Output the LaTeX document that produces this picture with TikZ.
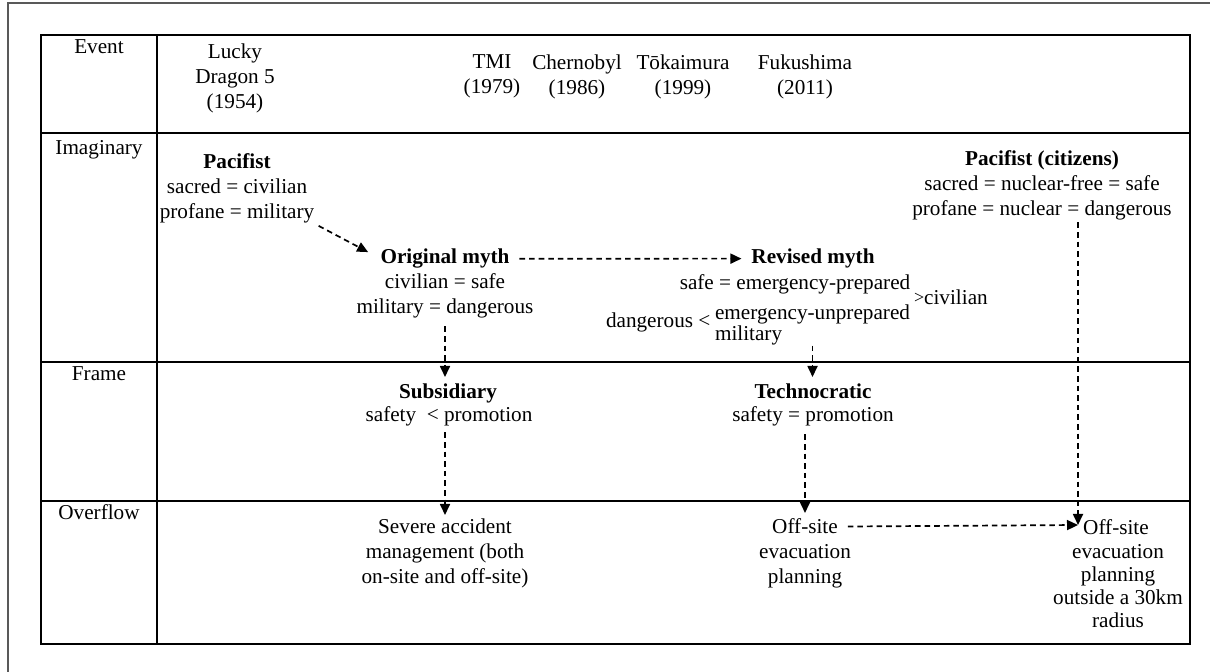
\documentclass[tikz,border=0pt]{standalone}
\usepackage{fontspec}
\setmainfont{Liberation Serif}
\usetikzlibrary{arrows.meta}

\begin{document}
\begin{tikzpicture}[x=0.5pt,y=-0.5pt,
		txt/.style={inner sep=0pt, outer sep=0pt, align=center, font=\fontsize{10.6}{12.5}\selectfont},
		cellline/.style={line width=0.75pt, color=black},
		dasharrow/.style={line width=0.85pt, dash pattern=on 2.8pt off 2pt, -{Triangle[length=5.5pt,width=5pt]}}]
			%%%%% START %%%%%
			\useasboundingbox (0,0) rectangle (1210,672);
			
			\draw[line width=1pt, color=black!65] (8,672) -- (8,3) -- (1210,3);
			
			\draw[cellline] (41,35) rectangle (1190,644);
			\draw[cellline] (157,35) -- (157,644);
			\foreach \y in {133,362,501}
				\draw[cellline] (41,\y) -- (1190,\y);
			
			\node[txt, anchor=north] (lbEvent) at (99,40) {Event};
			\node[txt, anchor=north] (lbImag) at (99,140) {Imaginary};
			\node[txt, anchor=north] (lbFrame) at (99,367) {Frame};
			\node[txt, anchor=north] (lbOver) at (99,505) {Overflow};
			
			\node[txt, anchor=north] (evLucky) at (235,44) {Lucky\\Dragon 5\\(1954)};
			\node[txt, anchor=north] (evTMI) at (492,55) {TMI\\(1979)};
			\node[txt, anchor=north] (evCher) at (577,55) {Chernobyl\\(1986)};
			\node[txt, anchor=north] (evTokai) at (683,55) {Tōkaimura\\(1999)};
			\node[txt, anchor=north] (evFuku) at (805,55) {Fukushima\\(2011)};
			
			\node[txt, anchor=north] (pac) at (237,154) {\textbf{Pacifist}\\sacred = civilian\\profane = military};
			\node[txt, anchor=north] (pacR) at (1042,151) {\textbf{Pacifist (citizens)}\\sacred = nuclear-free = safe\\profane = nuclear = dangerous};
			
			\node[txt, anchor=north] (origT) at (445,249) {\textbf{Original myth}};
			\node[txt, anchor=north] (origB) at (445,274) {civilian = safe\\military = dangerous};
			
			\node[txt, anchor=north] (revT) at (813,249) {\textbf{Revised myth}};
			\node[txt, anchor=north] (revS) at (795,275) {safe = emergency-prepared};
			\node[txt, anchor=west] (revD) at (606,322) {dangerous <};
			\node[txt, anchor=north west, align=left, font=\fontsize{10.6}{9.5}\selectfont] (revU) at (715,305) {emergency-unprepared\\military};
			\node[txt, anchor=west] (revC) at (914,297) {\raisebox{0.6pt}{\fontsize{9}{9}\selectfont >}civilian};
			
			\node[txt, anchor=north] (subT) at (448,384) {\textbf{Subsidiary}};
			\node[txt, anchor=north] (subB) at (449,407) {safety\ \ < promotion};
			\node[txt, anchor=north] (techT) at (813,384) {\textbf{Technocratic}};
			\node[txt, anchor=north] (techB) at (813,407) {safety = promotion};
			
			\node[txt, anchor=north] (sevM) at (445,519) {Severe accident\\management (both\\on-site and off-site)};
			\node[txt, anchor=north] (offMT) at (805,519) {Off-site};
			\node[txt, anchor=north] (offMB) at (805,544) {evacuation\\planning};
			\node[txt, anchor=north] (offRT) at (1116,520) {Off-site};
			\node[txt, anchor=north, font=\fontsize{10.6}{11.6}\selectfont] (offRB) at (1118,544) {evacuation\\planning\\outside a 30km\\radius};
			
			\coordinate (meet) at (1078,525);
			
			\draw[dasharrow, shorten <=2.5pt, shorten >=7pt] (pac.south east) -- (origT.west);
			\draw[dasharrow, shorten <=5pt, shorten >=5pt] (origT.east) -- (revT.west);
			\draw[dasharrow, shorten <=4pt, shorten >=3.5pt] (origB.south) -- (origB.south |- subT.north);
			\draw[dasharrow, shorten >=3.5pt] (revU.south) -- (revU.south |- techT.north);
			\draw[dasharrow, shorten <=3pt, shorten >=2pt] (sevM.north |- subB.south) -- (sevM.north);
			\draw[dasharrow, shorten <=4pt, shorten >=3pt] (offMT.north |- techB.south) -- (offMT.north);
			\draw[dasharrow, shorten <=5pt] (offMT.east) -- (meet);
			\draw[dasharrow, shorten <=1pt] (pacR.south -| meet) -- (meet);
			
			%%%%% END %%%%%
\end{tikzpicture}
\end{document}
